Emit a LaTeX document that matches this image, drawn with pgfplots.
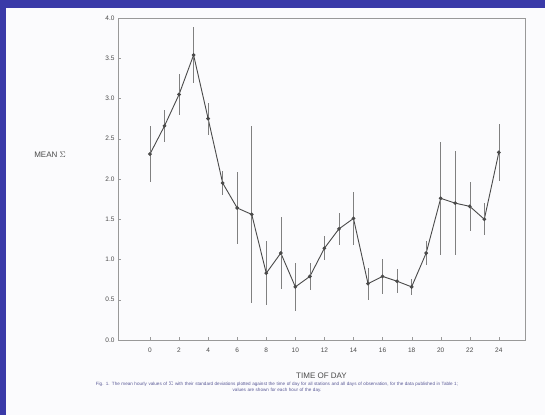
\documentclass[border=0pt]{standalone}
\usepackage{pgfplots}
\pgfplotsset{compat=1.18}
\usepackage{fontspec}
\setmainfont{Liberation Sans}
\definecolor{slideblue}{HTML}{3A3AA8}
\definecolor{paper}{HTML}{FBFBFD}
\definecolor{ink}{HTML}{4A4A4A}
\pgfplotstableread{
x y e
0 2.31 0.35
1 2.66 0.20
2 3.05 0.25
3 3.54 0.35
4 2.75 0.20
5 1.95 0.15
6 1.64 0.45
7 1.56 1.10
8 0.83 0.40
9 1.08 0.45
10 0.66 0.30
11 0.79 0.17
12 1.14 0.15
13 1.38 0.20
14 1.51 0.33
15 0.70 0.20
16 0.79 0.22
17 0.73 0.15
18 0.66 0.10
19 1.08 0.15
20 1.76 0.70
21 1.70 0.65
22 1.66 0.30
23 1.50 0.20
24 2.33 0.35
}\meandata
\begin{document}
\begin{tikzpicture}[x=1pt,y=1pt]
\fill[paper] (0,0) rectangle (545,415);
\fill[slideblue] (0,407) rectangle (545,415);
\fill[slideblue] (0,0) rectangle (6,415);
\begin{axis}[
  at={(118pt,75pt)}, anchor=south west,
  scale only axis, width=407pt, height=322pt,
  xmin=-2.2, xmax=25.8, ymin=0, ymax=4,
  xtick={0,2,...,24},
  ytick={0,0.5,...,4},
  yticklabel style={/pgf/number format/.cd,fixed,fixed zerofill,precision=1},
  xticklabel style={yshift=-4pt},
  /pgf/number format/assume math mode=true,
  tick label style={font=\fontsize{6.5}{7.5}\selectfont, text=ink},
  axis line style={draw=gray!80},
  major tick length=3pt,
  tick style={gray!80},
  tick align=inside,
  xtick pos=bottom, ytick pos=left,
  xlabel={TIME OF DAY},
  xlabel style={font=\fontsize{8}{9}\selectfont, text=ink, yshift=-14pt},
]
\addplot[ink, line width=0.9pt, mark=*, mark size=1.4pt,
  error bars/.cd, y dir=both, y explicit,
  error bar style={gray, line width=0.5pt}, error mark=none]
  table[x=x, y=y, y error=e] {\meandata};
\end{axis}
\node[font=\fontsize{8}{9}\selectfont, text=ink] at (50,260) {MEAN $\Sigma$};
\node[font=\fontsize{4.6}{6}\selectfont, text=slideblue!55!gray, align=center, text width=505pt] at (277,28)
 {Fig. 1. The mean hourly values of $\Sigma$ with their standard deviations plotted against the time of day for all stations and all days of observation, for the data published in Table 1;\\ values are shown for each hour of the day.};
\end{tikzpicture}
\end{document}
